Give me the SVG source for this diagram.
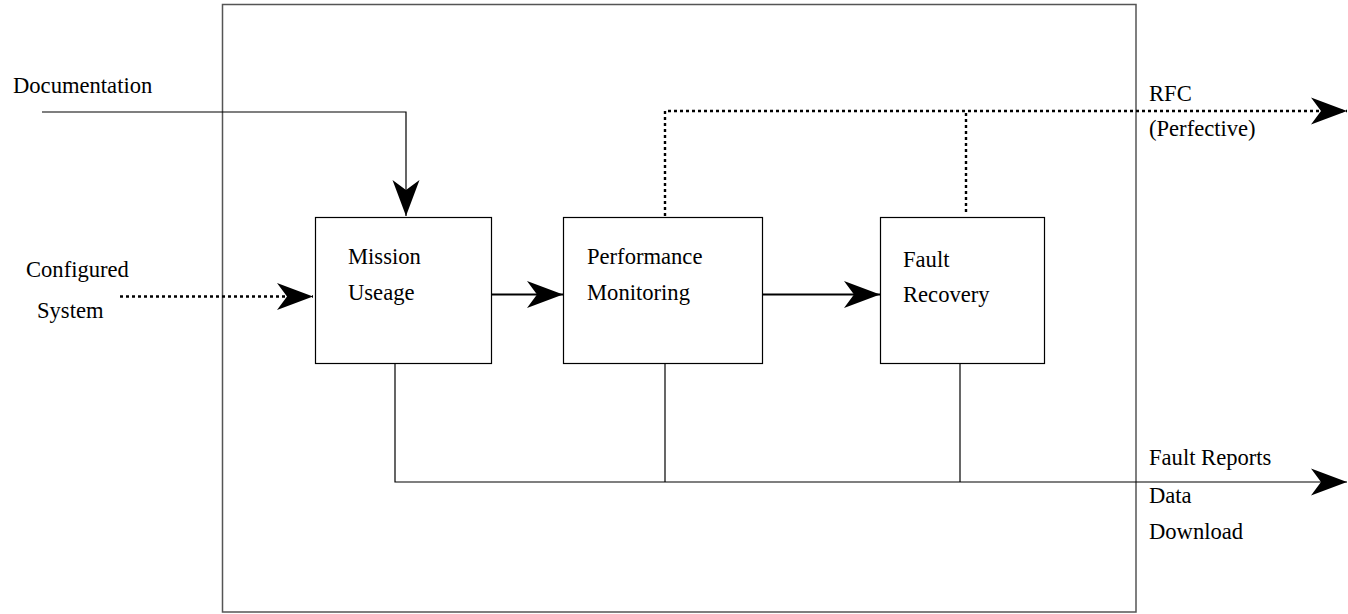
<svg xmlns="http://www.w3.org/2000/svg" width="1348" height="614" viewBox="0 0 1348 614">
  <style>
    text { font-family: "Liberation Serif", "Times New Roman", serif; font-size: 22.6px; fill: #000; }
    .box { fill: #fff; stroke: #000; stroke-width: 1.2; }
    .frame { fill: #fff; stroke: #555; stroke-width: 1.5; }
    .solid { fill: none; stroke: #000; stroke-width: 1.2; }
    .thick { fill: none; stroke: #000; stroke-width: 2.2; }
    .dotted { fill: none; stroke: #000; stroke-width: 2.4; stroke-dasharray: 3 3; }
  </style>
  <defs>
    <marker id="arrow" markerUnits="userSpaceOnUse" markerWidth="40" markerHeight="32" viewBox="-38 -15 40 30" refX="0" refY="0" orient="auto">
      <path d="M0,0 L-36,-13.5 L-26,0 L-36,13.5 Z" fill="#000"/>
    </marker>
  </defs>

  <rect width="1348" height="614" fill="#fff"/>

  <!-- outer system boundary -->
  <rect id="boundary" class="frame" x="222.5" y="4.5" width="913.5" height="607.5"/>

  <g id="connectors">
    <!-- documentation input -->
    <polyline class="solid" points="42,112 406,112 406,216" marker-end="url(#arrow)"/>
    <!-- configured system input -->
    <line class="dotted" x1="120" y1="296.5" x2="313" y2="296.5" marker-end="url(#arrow)"/>
    <!-- process chain -->
    <line class="thick" x1="492" y1="294.5" x2="563" y2="294.5" marker-end="url(#arrow)"/>
    <line class="thick" x1="763" y1="294.5" x2="880" y2="294.5" marker-end="url(#arrow)"/>
    <!-- RFC output -->
    <polyline class="dotted" points="665,216 665,111 1347,111" marker-end="url(#arrow)"/>
    <line class="dotted" x1="966" y1="212" x2="966" y2="111"/>
    <!-- fault reports / data download output -->
    <polyline class="solid" points="395,363 395,482 1347,482" marker-end="url(#arrow)"/>
    <line class="solid" x1="665" y1="363" x2="665" y2="482"/>
    <line class="solid" x1="960" y1="363" x2="960" y2="482"/>
  </g>

  <g id="mission-useage">
    <rect class="box" x="315.5" y="217.5" width="176" height="146"/>
    <text x="348" y="264">Mission</text>
    <text x="348" y="300">Useage</text>
  </g>

  <g id="performance-monitoring">
    <rect class="box" x="563.5" y="217.5" width="199" height="146"/>
    <text x="587" y="264">Performance</text>
    <text x="587" y="300">Monitoring</text>
  </g>

  <g id="fault-recovery">
    <rect class="box" x="880.5" y="217.5" width="164" height="146"/>
    <text x="903" y="267">Fault</text>
    <text x="903" y="302">Recovery</text>
  </g>

  <g id="labels">
    <text x="13" y="93">Documentation</text>
    <text x="26" y="277">Configured</text>
    <text x="37" y="318">System</text>
    <text x="1149" y="101">RFC</text>
    <text x="1149" y="136">(Perfective)</text>
    <text x="1149" y="465">Fault Reports</text>
    <text x="1149" y="503">Data</text>
    <text x="1149" y="539">Download</text>
  </g>
</svg>
